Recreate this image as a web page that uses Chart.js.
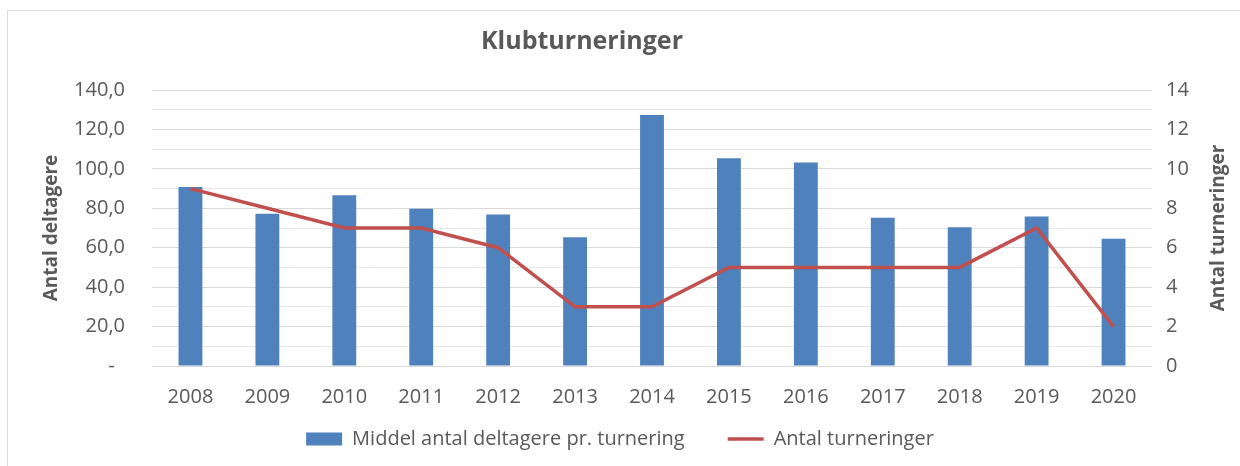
<!DOCTYPE html>
<html>
<head>
<meta charset="utf-8">
<title>Klubturneringer</title>
<script src="https://cdn.jsdelivr.net/npm/chart.js@4"></script>
<style>
  body { margin: 0; background: #fff; }
  canvas { display: block; }
</style>
</head>
<body>
<canvas id="chart" width="1240" height="466"></canvas>
<script>
const years = ["2008", "2009", "2010", "2011", "2012", "2013", "2014", "2015", "2016", "2017", "2018", "2019", "2020"];
const avgParticipants = [90.8, 77.2, 86.6, 79.8, 76.8, 65.3, 127.3, 105.4, 103.2, 75.2, 70.4, 75.8, 64.5];
const tournaments = [9, 8, 7, 7, 6, 3, 3, 5, 5, 5, 5, 7, 2];
const leftTicks = [0, 20, 40, 60, 80, 100, 120, 140];
const rightTicks = [0, 2, 4, 6, 8, 10, 12, 14];

const textColor = '#595959';
const font = 'Open Sans';
const titleText = 'Klubturneringer';

// frame round the chart, like the Excel chart area
const framePlugin = {
    id: 'frame',
    beforeDraw(chart) {
        const c = chart.ctx;
        c.save();
        c.fillStyle = '#fff';
        c.fillRect(0, 0, chart.width, chart.height);
        c.strokeStyle = '#dcdcdc';
        c.lineWidth = 1;
        c.strokeRect(7.5, 10.5, 1400, 600);
        c.restore();
    }
};

// chart title sits a bit left of centre, right axis title reads bottom-to-top
const textPlugin = {
    id: 'extraText',
    afterDraw(chart) {
        const c = chart.ctx;
        const area = chart.chartArea;
        c.save();
        c.fillStyle = textColor;
        c.textAlign = 'center';
        c.textBaseline = 'middle';
        c.font = `bold 25px "${font}"`;
        c.fillText(titleText, 582, chart.titleBlock.top + 27 + 15);
        c.translate(1219, (area.top + area.bottom) / 2);
        c.rotate(-Math.PI / 2);
        c.font = `bold 19px "${font}"`;
        c.fillText('Antal turneringer', 0, 0);
        c.restore();
    }
};

const ctx = document.getElementById('chart').getContext('2d');
const chart = new Chart(ctx, {
    type: 'bar',
    data: {
        labels: years,
        datasets: [{
            type: 'bar',
            label: 'Middel antal deltagere pr. turnering',
            data: avgParticipants,
            backgroundColor: '#4F81BD',
            barPercentage: 0.31,
            categoryPercentage: 1,
            yAxisID: 'y',
            order: 2
        }, {
            type: 'line',
            label: 'Antal turneringer',
            data: tournaments,
            borderColor: '#C0504D',
            backgroundColor: '#C0504D',
            borderWidth: 3.5,
            pointRadius: 0,
            tension: 0,
            yAxisID: 'y1',
            order: 1
        }]
    },
    options: {
        responsive: false,
        devicePixelRatio: 1,
        animation: false,
        layout: { padding: { left: 0, right: 0, top: 0, bottom: 7 } },
        plugins: {
            title: {
                display: true,
                text: titleText,
                color: 'rgba(0,0,0,0)',
                font: { family: font, size: 25, weight: 'bold' },
                padding: { top: 27, bottom: 33 }
            },
            legend: {
                position: 'bottom',
                labels: {
                    color: textColor,
                    font: { family: font, size: 20 },
                    usePointStyle: true,
                    pointStyleWidth: 36,
                    boxHeight: 13,
                    padding: 17,
                    sort: (a, b) => a.datasetIndex - b.datasetIndex,
                    generateLabels: (ch) => Chart.defaults.plugins.legend.labels.generateLabels(ch).map(l => {
                        if (l.datasetIndex === 0) {
                            l.pointStyle = 'rect';
                            l.lineWidth = 0;
                            l.text = l.text + '     '; // wider gap to next item
                        } else {
                            l.pointStyle = 'line';
                            l.lineWidth = 3.5;
                            l.strokeStyle = '#C0504D';
                        }
                        return l;
                    })
                }
            },
            tooltip: { enabled: false }
        },
        scales: {
            x: {
                grid: { display: false, drawTicks: false },
                border: { display: false },
                ticks: { color: textColor, font: { family: font, size: 20 }, padding: 19, maxRotation: 0 },
                afterFit: (s) => { s.height = 46; }
            },
            y: {
                position: 'left',
                min: 0,
                max: 140,
                ticks: {
                    stepSize: 10,
                    maxTicksLimit: 20,
                    autoSkip: false,
                    color: textColor,
                    font: { family: font, size: 20 },
                    padding: 27,
                    callback: (v) => {
                        if (!leftTicks.includes(v)) return '';
                        return v === 0 ? '-  ' : v.toFixed(1).replace('.', ',');
                    }
                },
                grid: {
                    drawTicks: false,
                    color: (c) => (c.tick && c.tick.value % 20 === 0) ? '#d9d9d9' : '#e8e8e8',
                    lineWidth: 1
                },
                border: { display: false },
                title: {
                    display: true,
                    text: 'Antal deltagere',
                    color: textColor,
                    font: { family: font, size: 19, weight: 'bold' },
                    padding: { top: 40, bottom: 0 }
                },
                afterFit: (s) => { s.width = 152; }
            },
            y1: {
                position: 'right',
                min: 0,
                max: 14,
                afterBuildTicks: (s) => { s.ticks = rightTicks.map(v => ({ value: v })); },
                ticks: {
                    color: textColor,
                    font: { family: font, size: 20 },
                    padding: 14
                },
                grid: { display: false, drawTicks: false },
                border: { display: false },
                afterFit: (s) => { s.width = 88; }
            }
        }
    },
    plugins: [framePlugin, textPlugin]
});
</script>
</body>
</html>
